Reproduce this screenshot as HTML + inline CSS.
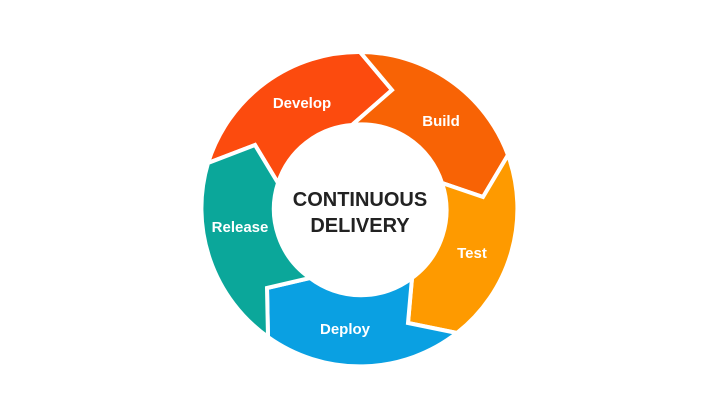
<!DOCTYPE html>
<html><head><style>html,body{margin:0;padding:0;background:#fff}</style></head><body>
<svg width="720" height="405" viewBox="0 0 720 405" xmlns="http://www.w3.org/2000/svg" font-family="Liberation Sans, sans-serif">
<rect width="720" height="405" fill="#fff"/>
<g stroke="#fff" stroke-width="4" stroke-linejoin="miter">
<path fill="#FC4B0E" d="M208,163 A158,158 0 0 1 360,52 L392,90 L352,125 A84,84 0 0 0 278,183 L255,145 Z"/>
<path fill="#F86305" d="M360,52 A158,158 0 0 1 508,155 L483,197 L442,183 A84,84 0 0 0 352,125 L392,90 Z"/>
<path fill="#FE9A00" d="M508,155 A158,158 0 0 1 457,333 L408,323 L412,278 A84,84 0 0 0 442,183 L483,197 Z"/>
<path fill="#0AA0E2" d="M457,333 A158,158 0 0 1 268,337 L267,288 L310,278 A84,84 0 0 0 412,278 L408,323 Z"/>
<path fill="#0BA79A" d="M268,337 A158,158 0 0 1 208,163 L255,145 L278,183 A84,84 0 0 0 310,278 L267,288 Z"/>
</g>
<g fill="#fff" font-weight="bold" font-size="15" text-anchor="middle">
<text x="302" y="108">Develop</text>
<text x="441" y="126">Build</text>
<text x="472" y="258">Test</text>
<text x="345" y="334">Deploy</text>
<text x="240" y="232">Release</text>
</g>
<g fill="#222" font-weight="bold" font-size="20" text-anchor="middle">
<text x="360" y="206">CONTINUOUS</text>
<text x="360" y="232">DELIVERY</text>
</g>
</svg>
</body></html>
